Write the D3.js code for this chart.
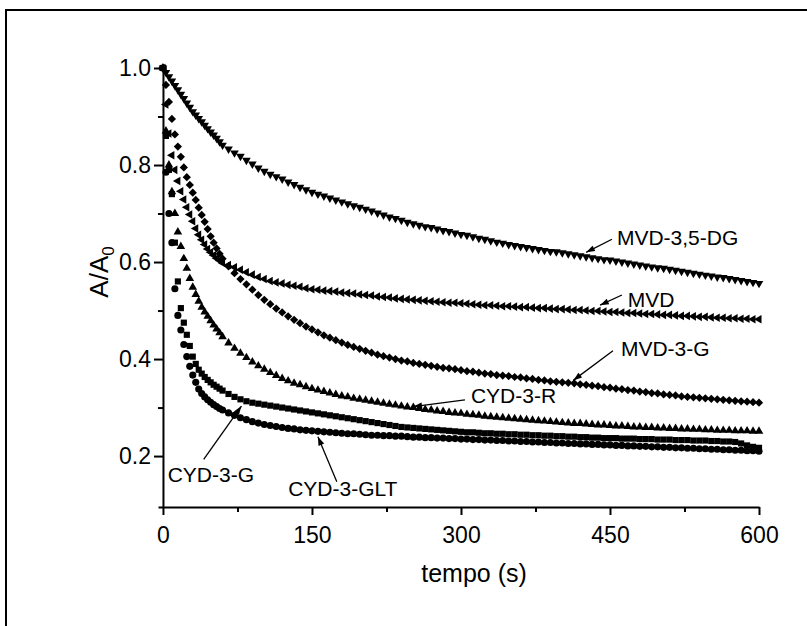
<!DOCTYPE html>
<html>
<head>
<meta charset="utf-8">
<script src="https://cdn.jsdelivr.net/npm/d3@7"></script>
<style>
  body { margin: 0; background: #fff; }
  svg { display: block; font-family: "Liberation Sans", Arial, sans-serif; }
</style>
</head>
<body>
<div id="chart"></div>
<script>
// sampling times (s), shared by all series
const times = [0,3,6,9,12,15,18,21,24,27,30,33,36,39,42,45,48,51,54,57,60,
  66,72,78,84,90,96,102,108,114,120,126,132,138,144,150,
  156,162,168,174,180,186,192,198,204,210,216,222,228,234,240,246,
  252,258,264,270,276,282,288,294,300,306,312,318,324,330,336,342,348,
  354,360,366,372,378,384,390,396,402,408,414,420,426,432,438,444,450,
  456,462,468,474,480,486,492,498,504,510,516,522,528,534,540,546,552,558,564,570,576,582,588,594,600];

// A/A0
const mvd35dg = [1.000,0.991,0.982,0.973,0.964,0.955,0.946,0.937,0.928,0.919,0.910,0.903,0.896,0.889,0.882,0.875,0.868,0.862,0.855,0.848,0.841,
  0.833,0.825,0.818,0.810,0.802,0.794,0.787,0.781,0.776,0.771,0.765,0.760,0.754,0.749,0.744,
  0.740,0.736,0.732,0.728,0.724,0.720,0.716,0.713,0.709,0.705,0.701,0.697,0.693,0.690,0.686,0.682,
  0.679,0.676,0.673,0.671,0.668,0.665,0.663,0.660,0.657,0.655,0.652,0.649,0.647,0.644,0.641,0.639,0.636,
  0.634,0.632,0.630,0.628,0.626,0.624,0.622,0.621,0.619,0.617,0.615,0.613,0.611,0.609,0.607,0.605,0.604,
  0.602,0.600,0.598,0.596,0.594,0.592,0.590,0.588,0.587,0.585,0.583,0.581,0.579,0.577,0.575,0.573,0.571,0.569,0.568,0.566,0.564,0.562,0.560,0.558,0.556];

const mvd = [1.000,0.925,0.865,0.820,0.790,0.767,0.746,0.729,0.713,0.698,0.684,0.669,0.656,0.646,0.636,0.627,0.620,0.614,0.608,0.603,0.598,
  0.594,0.589,0.584,0.579,0.574,0.569,0.565,0.561,0.558,0.556,0.553,0.551,0.549,0.546,0.544,
  0.543,0.541,0.540,0.539,0.537,0.536,0.535,0.533,0.532,0.531,0.529,0.528,0.527,0.525,0.524,0.523,
  0.522,0.521,0.520,0.519,0.518,0.517,0.516,0.516,0.515,0.514,0.513,0.512,0.511,0.511,0.510,0.509,0.509,
  0.508,0.507,0.507,0.506,0.505,0.505,0.504,0.503,0.503,0.502,0.501,0.501,0.500,0.499,0.499,0.498,0.497,
  0.497,0.496,0.495,0.495,0.494,0.493,0.493,0.492,0.491,0.491,0.490,0.489,0.489,0.488,0.487,0.487,0.486,0.485,0.485,0.484,0.484,0.483,0.483,0.482,0.482];

const mvd3g = [1.000,0.965,0.930,0.895,0.863,0.838,0.817,0.795,0.775,0.759,0.743,0.728,0.712,0.697,0.683,0.668,0.653,0.640,0.628,0.617,0.607,
  0.591,0.577,0.565,0.554,0.543,0.532,0.522,0.513,0.504,0.496,0.488,0.481,0.474,0.467,0.461,
  0.455,0.449,0.444,0.439,0.434,0.429,0.425,0.421,0.417,0.413,0.409,0.406,0.403,0.400,0.397,0.395,
  0.392,0.390,0.388,0.386,0.384,0.382,0.381,0.379,0.377,0.375,0.374,0.372,0.370,0.369,0.367,0.366,0.365,
  0.363,0.362,0.360,0.359,0.357,0.356,0.354,0.353,0.352,0.351,0.350,0.348,0.347,0.345,0.344,0.342,0.341,
  0.339,0.338,0.336,0.335,0.333,0.332,0.330,0.329,0.327,0.326,0.325,0.323,0.322,0.321,0.320,0.319,0.318,0.317,0.316,0.315,0.314,0.313,0.312,0.311,0.310];

const cyd3r = [1.000,0.870,0.800,0.745,0.700,0.662,0.632,0.607,0.587,0.566,0.548,0.533,0.519,0.507,0.497,0.488,0.479,0.470,0.462,0.454,0.446,
  0.433,0.422,0.412,0.403,0.394,0.386,0.379,0.372,0.366,0.360,0.355,0.350,0.347,0.343,0.339,
  0.336,0.333,0.330,0.327,0.324,0.322,0.319,0.317,0.315,0.313,0.311,0.309,0.307,0.305,0.303,0.301,
  0.300,0.298,0.296,0.295,0.293,0.292,0.290,0.289,0.288,0.286,0.285,0.284,0.282,0.281,0.280,0.279,0.278,
  0.277,0.276,0.275,0.274,0.273,0.272,0.271,0.270,0.269,0.268,0.267,0.267,0.266,0.265,0.264,0.264,0.263,
  0.262,0.262,0.261,0.260,0.260,0.259,0.259,0.258,0.258,0.257,0.257,0.256,0.256,0.255,0.255,0.254,0.254,0.253,0.253,0.253,0.252,0.252,0.252,0.251,0.251];

const cyd3g = [1.000,0.860,0.790,0.740,0.640,0.560,0.505,0.475,0.450,0.427,0.405,0.390,0.378,0.370,0.363,0.357,0.352,0.347,0.343,0.339,0.335,
  0.328,0.322,0.317,0.313,0.310,0.308,0.306,0.304,0.302,0.300,0.298,0.296,0.294,0.292,0.290,
  0.288,0.286,0.284,0.282,0.280,0.278,0.276,0.274,0.272,0.270,0.268,0.266,0.264,0.262,0.260,0.259,
  0.258,0.257,0.256,0.255,0.254,0.253,0.252,0.251,0.250,0.249,0.249,0.248,0.247,0.247,0.246,0.246,0.245,
  0.245,0.244,0.244,0.243,0.243,0.242,0.242,0.241,0.241,0.240,0.240,0.239,0.239,0.238,0.238,0.237,0.237,
  0.237,0.236,0.236,0.236,0.235,0.235,0.235,0.234,0.234,0.234,0.233,0.233,0.233,0.232,0.232,0.232,0.231,0.231,0.230,0.230,0.229,0.226,0.222,0.219,0.217];

const cyd3glt = [1.000,0.785,0.700,0.640,0.545,0.490,0.460,0.430,0.405,0.385,0.367,0.352,0.338,0.329,0.322,0.316,0.311,0.306,0.302,0.298,0.295,
  0.289,0.284,0.279,0.275,0.271,0.268,0.265,0.263,0.261,0.259,0.257,0.256,0.254,0.253,0.252,
  0.251,0.250,0.249,0.248,0.247,0.246,0.246,0.245,0.244,0.243,0.243,0.242,0.242,0.241,0.241,0.240,
  0.239,0.239,0.238,0.238,0.237,0.237,0.236,0.236,0.235,0.235,0.234,0.234,0.233,0.233,0.232,0.232,0.231,
  0.231,0.230,0.230,0.229,0.229,0.228,0.228,0.227,0.227,0.226,0.226,0.225,0.225,0.224,0.224,0.223,0.223,
  0.222,0.222,0.221,0.221,0.220,0.220,0.219,0.219,0.218,0.218,0.217,0.217,0.216,0.216,0.215,0.215,0.214,0.214,0.213,0.213,0.212,0.212,0.211,0.211,0.210];

const xTicks = [0, 150, 300, 450, 600];
const xMinor = [75, 225, 375, 525];
const yTicks = [0.2, 0.4, 0.6, 0.8, 1.0];
const yMinor = [0.3, 0.5, 0.7, 0.9];

// callout labels, in data units: text anchor (t, A/A0), arrow tail, arrow head
const labelText = ["MVD-3,5-DG", "MVD", "MVD-3-G", "CYD-3-R", "CYD-3-G", "CYD-3-GLT"];
const labelAt   = [[457, 0.636], [468, 0.508], [461, 0.407], [310, 0.310], [4.7, 0.146], [126, 0.118]];
const arrowFrom = [[452, 0.647], [462, 0.532], [453, 0.417], [304, 0.316], [41, 0.193], [175, 0.147]];
const arrowTo   = [[426, 0.620], [440, 0.511], [413, 0.356], [252, 0.302], [79, 0.303], [156, 0.240]];

const W = 807, H = 626;
const x = d3.scaleLinear().domain([-5, 600]).range([158, 759]);
const y = d3.scaleLinear().domain([0.095, 1.0]).range([507, 68]);

const svg = d3.select("#chart").append("svg")
    .attr("width", W)
    .attr("height", H);

// outer frame (runs off the right and bottom edges)
svg.append("rect")
    .attr("x", 6).attr("y", 10)
    .attr("width", 830).attr("height", 640)
    .attr("fill", "none")
    .attr("stroke", "#000")
    .attr("stroke-width", 2);

svg.append("defs").append("marker")
    .attr("id", "arrow")
    .attr("viewBox", "0 -4 10 8")
    .attr("refX", 10)
    .attr("refY", 0)
    .attr("markerUnits", "userSpaceOnUse")
    .attr("markerWidth", 10)
    .attr("markerHeight", 7)
    .attr("orient", "auto")
    .append("path")
    .attr("d", "M0,-3.5L10,0L0,3.5Z")
    .attr("fill", "#000");

// axes
svg.append("g")
    .attr("transform", `translate(0,${y(0.095)})`)
    .call(d3.axisBottom(x).tickValues(xTicks).tickSize(8).tickSizeOuter(0).tickPadding(12).tickFormat(d3.format("d")));
svg.append("g")
    .attr("transform", `translate(0,${y(0.095)})`)
    .call(d3.axisBottom(x).tickValues(xMinor).tickSize(5).tickFormat(""))
    .call(g => g.select(".domain").remove());

svg.append("g")
    .attr("transform", `translate(${x(0)},0)`)
    .call(d3.axisLeft(y).tickValues(yTicks).tickSize(9).tickSizeOuter(0).tickPadding(3).tickFormat(d3.format(".1f")));
svg.append("g")
    .attr("transform", `translate(${x(0)},0)`)
    .call(d3.axisLeft(y).tickValues(yMinor).tickSize(5).tickFormat(""))
    .call(g => g.select(".domain").remove());

svg.selectAll(".domain, .tick line").attr("stroke", "#000").attr("stroke-width", 2);
svg.selectAll(".tick text")
    .attr("fill", "#000")
    .style("font-size", "23px")
    .style("font-family", "'Liberation Sans', Arial, sans-serif");

// axis titles
svg.append("text")
    .attr("x", 474).attr("y", 582)
    .attr("text-anchor", "middle")
    .style("font-size", "25px")
    .text("tempo (s)");

const yt = svg.append("text")
    .attr("transform", "translate(108,272) rotate(-90)")
    .attr("text-anchor", "middle")
    .style("font-size", "26px");
yt.append("tspan").text("A/A");
yt.append("tspan").attr("dy", 6).style("font-size", "17px").text("0");

// series, each with its own marker
const series = [
    { values: cyd3glt, type: d3.symbolCircle,   size: 40, rot: 0 },
    { values: cyd3g,   type: d3.symbolSquare,   size: 38, rot: 0 },
    { values: cyd3r,   type: d3.symbolTriangle, size: 32, rot: 0 },
    { values: mvd3g,   type: d3.symbolSquare,   size: 34, rot: 45 },
    { values: mvd,     type: d3.symbolTriangle, size: 32, rot: -90 },
    { values: mvd35dg, type: d3.symbolTriangle, size: 32, rot: 180 }
];

series.forEach(s => {
    const sym = d3.symbol().type(s.type).size(s.size)();
    svg.append("g")
        .selectAll("path")
        .data(times.map((t, i) => [t, s.values[i]]))
        .join("path")
        .attr("d", sym)
        .attr("transform", d => `translate(${x(d[0])},${y(d[1])}) rotate(${s.rot})`)
        .attr("fill", "#000");
});

// callouts
labelText.forEach((name, i) => {
    svg.append("line")
        .attr("x1", x(arrowFrom[i][0])).attr("y1", y(arrowFrom[i][1]))
        .attr("x2", x(arrowTo[i][0])).attr("y2", y(arrowTo[i][1]))
        .attr("stroke", "#000")
        .attr("stroke-width", 1.3)
        .attr("marker-end", "url(#arrow)");
    svg.append("text")
        .attr("x", x(labelAt[i][0])).attr("y", y(labelAt[i][1]))
        .style("font-size", "21px")
        .text(name);
});
</script>
</body>
</html>
